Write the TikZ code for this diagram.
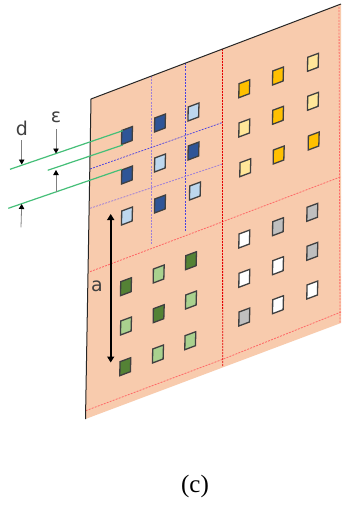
\documentclass[tikz,border=0pt]{standalone}
\usepackage{fontspec}
\setmainfont{Liberation Serif}
\newfontfamily\labelfont{DejaVu Sans}
\usetikzlibrary{arrows.meta}
\definecolor{panelc}{HTML}{F8CBAD}
\definecolor{dblue}{HTML}{2F5597}
\definecolor{lblue}{HTML}{BDD7EE}
\definecolor{dgreen}{HTML}{548235}
\definecolor{lgreen}{HTML}{A9D18E}
\definecolor{gold}{HTML}{FFC000}
\definecolor{lyellow}{HTML}{FFE699}
\definecolor{lgray}{HTML}{BFBFBF}
\definecolor{gline}{HTML}{45BF78}
\definecolor{bluedash}{HTML}{4A40E0}
\definecolor{purpledash}{HTML}{9F80D8}
\tikzset{
  redv/.style={draw=red!90!black,dash pattern=on 2pt off 1pt,line width=0.8pt},
  redh/.style={draw=red!60,dash pattern=on 2pt off 1.2pt,line width=0.8pt},
  blueline/.style={draw=bluedash,dash pattern=on 2pt off 1.2pt,line width=0.7pt},
  purpleline/.style={draw=purpledash,dash pattern=on 2pt off 1.2pt,line width=0.8pt},
  greenline/.style={draw=gline,line width=1.2pt},
  dimarrow/.style={draw=black!50,line width=0.8pt,-{Triangle[length=5pt,width=5.5pt,color=black]}},
  bigarrow/.style={draw=black,line width=1.8pt,{Triangle[length=6pt,width=7pt]}-{Triangle[length=6pt,width=7pt]}},
  lbl/.style={font=\labelfont\fontsize{19}{19}\selectfont,text=black!75,inner sep=0pt},
}
\newcommand{\cell}[3]{\filldraw[fill=#3,draw=black!75,line width=1.3pt,line join=miter]
  (#1-5.3,#2-5) -- (#1+5.5,#2-9) -- (#1+5.1,#2+5) -- (#1-5.5,#2+9) -- cycle;}
\begin{document}
\begin{tikzpicture}[x=1pt,y=-1pt]
\useasboundingbox (0,0) rectangle (341,506);
\fill[white] (0,0) rectangle (341,506);
% panel
\coordinate (tl) at (91,99);
\coordinate (tr) at (341,4);
\coordinate (br) at (341,323);
\coordinate (bl) at (85.5,419);
\fill[panelc] (tl) -- (tr) -- (br) -- (bl) -- cycle;
% grid lines
\draw[purpleline] (151.7,76) -- (151.7,245);
\draw[blueline] (185.7,63) -- (185.7,232);
\draw[blueline] (90,169) -- (222.5,122.5);
\draw[purpleline] (90,208.3) -- (222.5,164);
\draw[redh] (90,271.7) -- (222.7,221.7) -- (341,176.7);
\draw[redh] (85.7,410.7) -- (222.7,359.3) -- (341,312);
\draw[redv] (222.4,49) -- (222.7,366);
\draw[redh] (339,7) -- (340,323);
% edges
\draw[black!85,line width=1pt] (bl) -- (tl) -- (tr);
% cells
\foreach \x/\y/\c in {
 127/135.5/dblue,127/175/dblue,127/216/lblue,
 160/123/dblue,160/163/lblue,160/204/dblue,
 193.5/112/lblue,193.5/151/dblue,195/191/lblue,
 126/286.7/dgreen,126/326/lgreen,125.3/366.7/dgreen,
 158.7/274/lgreen,158.7/313.7/dgreen,158/354/lgreen,
 191/260.7/dgreen,191/300/lgreen,190.3/340.7/lgreen,
 244.3/239/white,244.3/278.3/white,244.3/317/lgray,
 278/226.7/lgray,278/265.7/white,278/304.7/white,
 312.3/212.3/lgray,312.3/251.3/lgray,312.3/290/white,
 244.3/88.7/gold,244.3/128/lyellow,245.3/167.7/lyellow,
 278/76/gold,278/115.3/gold,278.7/155/gold,
 313/62.3/lyellow,313/101.3/lyellow,313.7/141/gold}
 {\cell{\x}{\y}{\c}}
% green leaders
\coordinate (g1a) at (10,169.3);   \coordinate (g1b) at (122.7,130.7);
\coordinate (g2a) at (47.7,170.3); \coordinate (g2b) at (122.7,145);
\coordinate (g3a) at (8.3,208.3);  \coordinate (g3b) at (121.7,169.3);
\draw[greenline] (g1a) -- (g1b);
\draw[greenline] (g2a) -- (g2b);
\draw[greenline] (g3a) -- (g3b);
% dimension arrows
\coordinate (d1a) at (21.7,140);  \coordinate (d1b) at (21.7,164.5);
\coordinate (e1a) at (56,129.3);  \coordinate (e1b) at (56,153.5);
\coordinate (e2a) at (56,191.7);  \coordinate (e2b) at (56,170);
\coordinate (d2a) at (21,227.3);  \coordinate (d2b) at (21.7,204);
\draw[dimarrow] (d1a) -- (d1b);
\draw[dimarrow] (e1a) -- (e1b);
\draw[dimarrow] (e2a) -- (e2b);
\draw[dimarrow] (d2a) -- (d2b);
\coordinate (aa) at (110.7,214);  \coordinate (ab) at (110.7,362.5);
\draw[bigarrow] (aa) -- (ab);
% labels
\node[lbl] (dlabel) at (22,128) {d};
\node[lbl] (elabel) at (56,117) {ε};
\node[lbl] (alabel) at (97,286) {a};
\node[inner sep=0pt,font=\fontsize{25}{25}\selectfont] (caption) at (195,486) {(c)};
\end{tikzpicture}
\end{document}
